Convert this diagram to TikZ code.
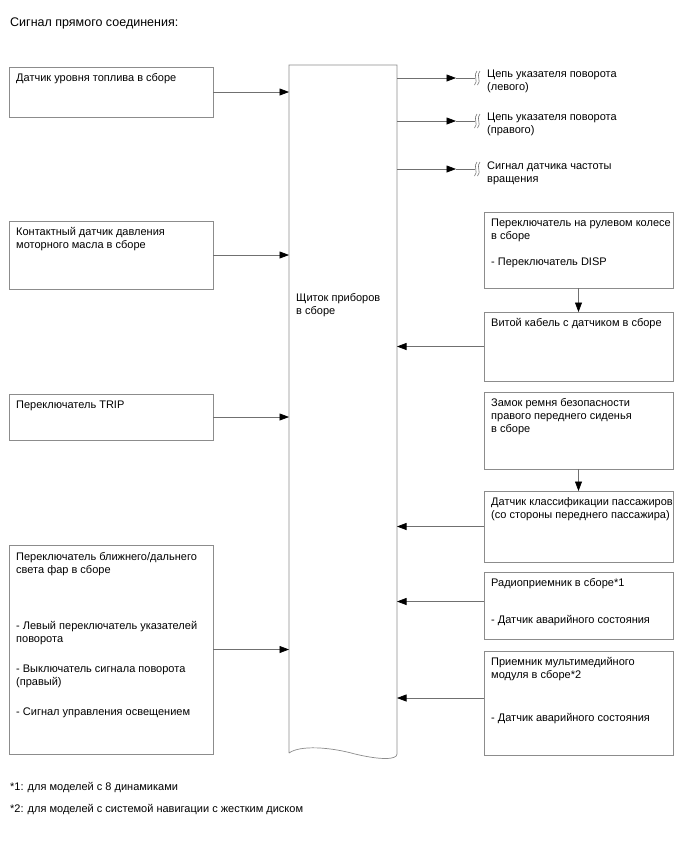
\documentclass[tikz,border=0pt]{standalone}
\usepackage{fontspec}
\setmainfont{Liberation Sans}
\usetikzlibrary{arrows.meta,calc}
\definecolor{boxgray}{HTML}{8C8C8C}
\definecolor{linegray}{HTML}{707070}
\tikzset{
  box/.style={draw=boxgray, line width=0.7pt, anchor=north west, inner sep=0pt, outer sep=0pt},
  lbl/.style={anchor=base west, inner sep=0pt, font=\fontsize{11}{13}\selectfont},
  conn/.style={draw=linegray, line width=0.7pt},
  arr/.style={conn, -{Triangle[length=9.5pt,width=7pt,color=black]}},
  brk/.style={draw=linegray, line width=0.6pt},
}
\newcommand{\txt}[2]{\parbox[t]{#1pt}{\raggedright #2}}
\begin{document}
\begin{tikzpicture}[x=1pt,y=-1pt]
\useasboundingbox[fill=white] (0,0) rectangle (688,852);

% title
\node[lbl, font=\fontsize{12.5}{14}\selectfont] (title) at (10,26) {Сигнал прямого соединения:};

% central box
\node[anchor=north west, inner sep=0pt, outer sep=0pt, minimum width=108, minimum height=688] (C) at (289,65) {};
\draw[draw=boxgray, line width=0.7pt] (C.south west) -- (C.north west) -- (C.north east) -- ([yshift=-1pt]C.south east)
  .. controls (397,760) and (380,760) .. (355,754)
  .. controls (330,747) and (300,745) .. (C.south west);
\node[lbl] (Ct) at (296,301) {\txt{100}{Щиток приборов\\в сборе}};

% left boxes
\node[box, minimum width=204, minimum height=50] (L1) at (9,67) {};
\node[lbl] (L1t) at (16,81) {\txt{195}{Датчик уровня топлива в сборе}};
\node[box, minimum width=204, minimum height=68] (L2) at (9,221) {};
\node[lbl] (L2t) at (16,235) {\txt{195}{Контактный датчик давления\\моторного масла в сборе}};
\node[box, minimum width=204, minimum height=46] (L3) at (9,394) {};
\node[lbl] (L3t) at (16,408) {\txt{195}{Переключатель TRIP}};
\node[box, minimum width=204, minimum height=209] (L4) at (9,545) {};
\node[lbl] (L4t) at (16,560) {\txt{195}{Переключатель ближнего/дальнего\\света фар в сборе\\[43pt]- Левый переключатель указателей\\поворота\\[17pt]- Выключатель сигнала поворота\\(правый)\\[17pt]- Сигнал управления освещением}};

\draw[arr] (L1.east) -- (C.west |- L1.east);
\draw[arr] (L2.east) -- (C.west |- L2.east);
\draw[arr] (L3.east) -- (C.west |- L3.east);
\draw[arr] (L4.east) -- (C.west |- L4.east);

% right boxes
\node[box, minimum width=189, minimum height=76] (R1) at (484,212) {};
\node[lbl] (R1t) at (491,226) {\txt{185}{Переключатель на рулевом колесе\\в сборе\\[13pt]- Переключатель DISP}};
\node[box, minimum width=189, minimum height=69] (R2) at (484,312) {};
\node[lbl] (R2t) at (491,326) {\txt{185}{Витой кабель с датчиком в сборе}};
\node[box, minimum width=189, minimum height=77] (R3) at (484,392) {};
\node[lbl] (R3t) at (491,406) {\txt{185}{Замок ремня безопасности\\правого переднего сиденья\\в сборе}};
\node[box, minimum width=189, minimum height=71] (R4) at (484,491) {};
\node[lbl] (R4t) at (491,505) {\txt{185}{Датчик классификации пассажиров\\(со стороны переднего пассажира)}};
\node[box, minimum width=189, minimum height=67] (R5) at (484,572) {};
\node[lbl] (R5t) at (491,586) {\txt{185}{Радиоприемник в сборе*1\\[24pt]- Датчик аварийного состояния}};
\node[box, minimum width=189, minimum height=104] (R6) at (484,651) {};
\node[lbl] (R6t) at (491,665) {\txt{185}{Приемник мультимедийного\\модуля в сборе*2\\[30pt]- Датчик аварийного состояния}};

\coordinate (r5a) at ([yshift=4pt]R5.west);
\coordinate (r6a) at ([yshift=5pt]R6.west);

\draw[arr] (R1.south) -- (R2.north);
\draw[arr] (R3.south) -- (R4.north);
\draw[arr] (R2.west) -- (C.east |- R2.west);
\draw[arr] (R4.west) -- (C.east |- R4.west);
\draw[arr] (r5a) -- (C.east |- r5a);
\draw[arr] (r6a) -- (C.east |- r6a);

% top-right outputs
\foreach \n/\yy in {1/78, 2/121, 3/169}{
  \coordinate (m\n) at (456,\yy);
  \coordinate (e\n) at (475,\yy);
  \draw[arr] (C.east |- m\n) -- (m\n);
  \draw[conn] (m\n) -- (e\n);
  \draw[brk] ($(e\n)+(2,-7)$) .. controls ($(e\n)+(-2.5,-3)$) and ($(e\n)+(4,3)$) .. ($(e\n)+(-0.5,7)$);
  \draw[brk] ($(e\n)+(5,-7)$) .. controls ($(e\n)+(0.5,-3)$) and ($(e\n)+(7,3)$) .. ($(e\n)+(2.5,7)$);
}
\node[lbl] (o1) at (487,77) {\txt{185}{Цепь указателя поворота\\(левого)}};
\node[lbl] (o2) at (487,120) {\txt{185}{Цепь указателя поворота\\(правого)}};
\node[lbl] (o3) at (487,169) {\txt{185}{Сигнал датчика частоты\\вращения}};

% footnotes
\node[lbl] (f1) at (10,790) {*1: для моделей с 8 динамиками};
\node[lbl] (f2) at (10,812) {*2: для моделей с системой навигации с жестким диском};
\end{tikzpicture}
\end{document}
